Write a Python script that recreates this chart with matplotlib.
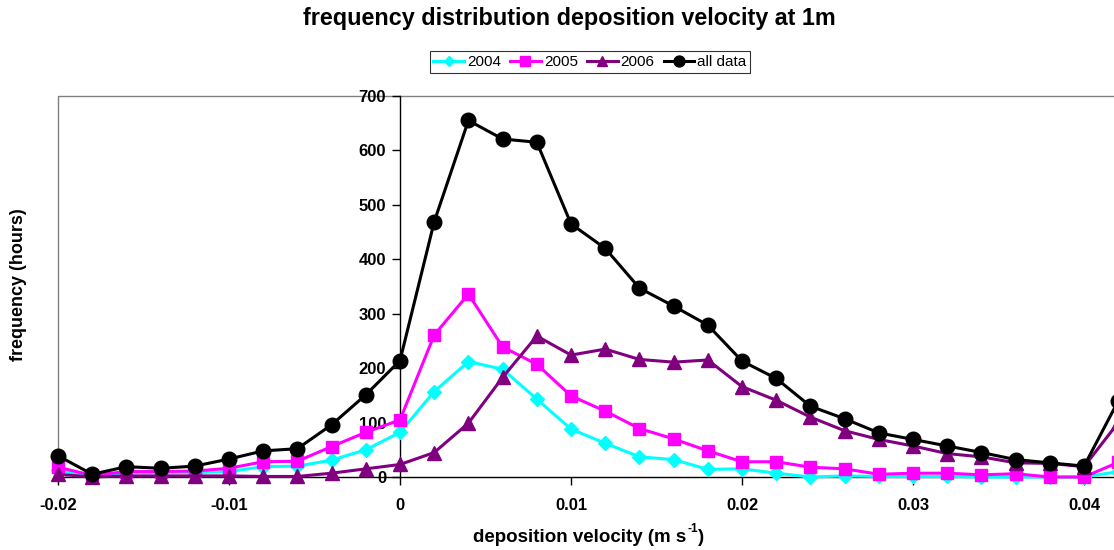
import matplotlib
matplotlib.use("Agg")
import matplotlib.pyplot as plt

plt.rcParams['font.family'] = ['Liberation Sans', 'DejaVu Sans']

# bin centres of deposition velocity (m s-1)
velocity = [-0.020, -0.018, -0.016, -0.014, -0.012, -0.010, -0.008, -0.006,
            -0.004, -0.002, 0.000, 0.002, 0.004, 0.006, 0.008, 0.010,
            0.012, 0.014, 0.016, 0.018, 0.020, 0.022, 0.024, 0.026,
            0.028, 0.030, 0.032, 0.034, 0.036, 0.038, 0.040, 0.042]

# frequency (hours) per bin
freq_2004 = [12, 2, 8, 8, 8, 10, 19, 20, 31, 50, 82, 157, 212, 198, 143, 88,
             62, 37, 32, 14, 15, 7, 0, 2, 1, 1, 1, 0, 0, 0, 0, 10]
freq_2005 = [18, 3, 10, 10, 11, 16, 28, 29, 56, 82, 105, 261, 336, 239, 207, 149,
             121, 89, 70, 48, 28, 28, 18, 15, 5, 7, 7, 4, 6, 0, 0, 27]
freq_2006 = [5, 0, 2, 2, 2, 2, 1, 1, 7, 15, 23, 45, 99, 183, 259, 224,
             235, 216, 211, 215, 166, 141, 110, 85, 69, 57, 43, 37, 26, 25, 19, 100]
freq_all = [39, 5, 19, 16, 20, 33, 48, 52, 96, 151, 214, 469, 655, 621, 615, 465,
            420, 347, 314, 279, 213, 181, 130, 107, 81, 69, 57, 45, 32, 26, 20, 140]

series = [
    ("2004", freq_2004, "#00FFFF", "D", 7),
    ("2005", freq_2005, "#FF00FF", "s", 9),
    ("2006", freq_2006, "#800080", "^", 10),
    ("all data", freq_all, "#000000", "o", 10.5),
]

W, H = 1114, 550
fig = plt.figure(figsize=(W / 100, H / 100), dpi=100)
ax = fig.add_axes([58 / W, 1 - 477 / H, 1 - 58 / W, (477 - 96) / H])

for label, vals, color, marker, ms in series:
    ax.plot(velocity, vals, color=color, marker=marker, markersize=ms,
            linewidth=2.2, label=label, clip_on=False, zorder=3)

ax.set_xlim(-0.02, 0.04175)
ax.set_ylim(0, 700)

# y axis drawn through x = 0, x axis along y = 0
for side in ("top", "right"):
    ax.spines[side].set_visible(False)
ax.spines['left'].set_position(('data', 0))
ax.spines['left'].set_linewidth(1.0)
ax.spines['bottom'].set_linewidth(1.0)

# grey plot-area border on the top and left
ax.plot([-0.02, -0.02, 0.04175], [0, 700, 700], color="#808080", linewidth=1.0,
        clip_on=False, zorder=1)

ax.set_yticks([0, 100, 200, 300, 400, 500, 600, 700])
ax.set_xticks([-0.02, -0.01, 0.0, 0.01, 0.02, 0.03, 0.04])
ax.set_xticklabels(["-0.02", "-0.01", "0", "0.01", "0.02", "0.03", "0.04"])
ax.tick_params(axis='both', direction='out', length=6, width=1.0, labelsize=12)
ax.tick_params(axis='y', pad=4)
ax.tick_params(axis='x', pad=9)
for t in ax.get_xticklabels() + ax.get_yticklabels():
    t.set_fontweight('bold')

fig.text(569 / W, 1 - 18 / H, "frequency distribution deposition velocity at 1m",
         ha='center', va='center', fontsize=16.8, fontweight='bold')
fig.text(18.5 / W, 1 - 285 / H, "frequency (hours)", rotation=90,
         ha='center', va='center', fontsize=13, fontweight='bold')

# x label with a small raised "-1"
xl_main = fig.text(0, 1 - 537 / H, "deposition velocity (m s", ha='left',
                   va='center', fontsize=13.5, fontweight='bold')
xl_sup = fig.text(0, 0, "-1", fontsize=8.5, fontweight='bold', ha='left',
                  va='bottom')
xl_end = fig.text(0, 0, ")", fontsize=13.5, fontweight='bold', ha='left',
                  va='center')
fig.canvas.draw()
r = fig.canvas.get_renderer()
w_main = xl_main.get_window_extent(r).width
w_sup = xl_sup.get_window_extent(r).width
w_end = xl_end.get_window_extent(r).width
x0 = 588 - (w_main + w_sup + w_end) / 2
yc = 1 - 537 / H
xl_main.set_position((x0 / W, yc))
xl_sup.set_position(((x0 + w_main + 1) / W, yc + 2 / H))
xl_end.set_position(((x0 + w_main + w_sup + 1) / W, yc))

leg = fig.legend(loc='center', bbox_to_anchor=(590 / W, 1 - 62 / H),
                 ncol=4, frameon=True, fancybox=False, fontsize=11,
                 handlelength=2.0, handletextpad=0.2, columnspacing=0.6,
                 borderpad=0.25, borderaxespad=0, markerscale=0.75)
leg.get_frame().set_edgecolor('black')
leg.get_frame().set_linewidth(0.8)

fig.savefig("out.png", dpi=100)
